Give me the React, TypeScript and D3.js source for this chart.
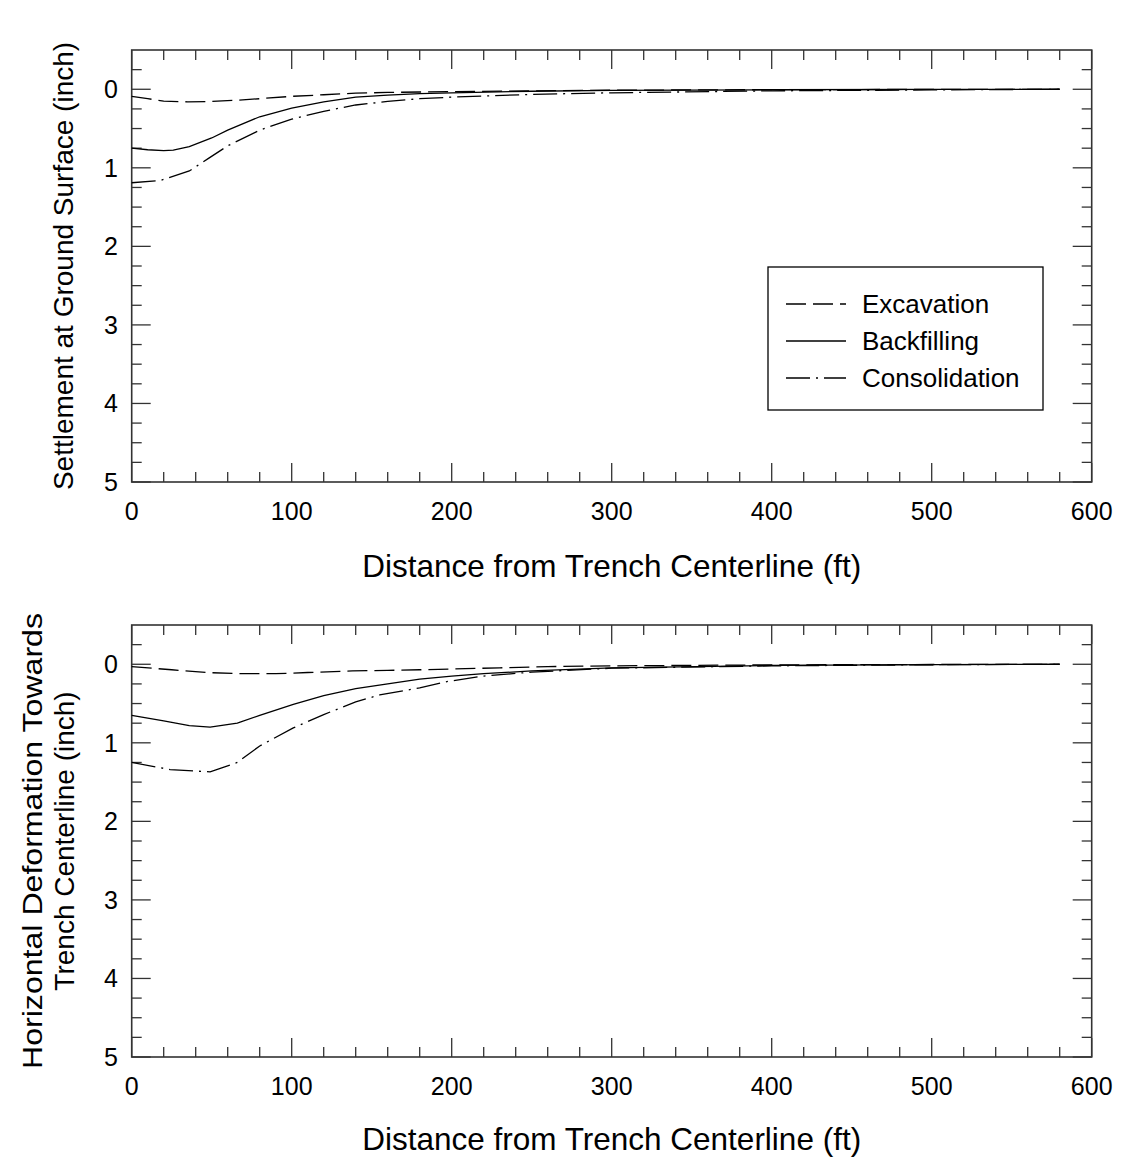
import React from "react";
import * as d3 from "d3";

// ---- data ----
const settleExcavationX = [0, 10, 20, 35, 50, 65, 80, 100, 120, 140, 160, 180, 200, 250, 300, 400, 500, 580];
const settleExcavationY = [0.09, 0.12, 0.15, 0.16, 0.155, 0.14, 0.12, 0.09, 0.07, 0.05, 0.04, 0.035, 0.03, 0.02, 0.012, 0.005, 0.002, 0];
const settleBackfillX = [0, 10, 20, 26, 36, 50, 60, 80, 100, 120, 140, 160, 180, 200, 250, 300, 400, 500, 580];
const settleBackfillY = [0.75, 0.77, 0.78, 0.775, 0.73, 0.62, 0.52, 0.35, 0.24, 0.16, 0.1, 0.075, 0.055, 0.045, 0.025, 0.015, 0.006, 0.002, 0];
const settleConsolX = [0, 18, 36, 48, 60, 80, 100, 120, 140, 160, 180, 200, 250, 300, 400, 500, 580];
const settleConsolY = [1.19, 1.16, 1.04, 0.88, 0.72, 0.52, 0.38, 0.28, 0.2, 0.155, 0.12, 0.1, 0.065, 0.045, 0.02, 0.008, 0];

const horizExcavationX = [0, 25, 49, 68, 90, 110, 138, 160, 180, 200, 230, 260, 300, 400, 500, 580];
const horizExcavationY = [0.03, 0.07, 0.107, 0.12, 0.12, 0.105, 0.085, 0.078, 0.07, 0.06, 0.045, 0.03, 0.02, 0.008, 0.003, 0];
const horizBackfillX = [0, 20, 36, 49, 66, 80, 101, 120, 140, 160, 180, 200, 220, 250, 300, 400, 500, 580];
const horizBackfillY = [0.65, 0.72, 0.78, 0.8, 0.75, 0.65, 0.51, 0.4, 0.31, 0.25, 0.19, 0.15, 0.12, 0.085, 0.045, 0.015, 0.005, 0];
const horizConsolX = [0, 24, 49, 66, 80, 101, 120, 140, 155, 180, 197, 220, 250, 300, 400, 500, 580];
const horizConsolY = [1.25, 1.34, 1.37, 1.25, 1.04, 0.81, 0.64, 0.48, 0.39, 0.3, 0.22, 0.15, 0.1, 0.05, 0.02, 0.006, 0];

const seriesNames = ["Excavation", "Backfilling", "Consolidation"];
const xTickLabels = [0, 100, 200, 300, 400, 500, 600];
const yTickLabels = [0, 1, 2, 3, 4, 5];

const dashes = ["20,7", "", "24,6,2,6"];
const FONT = "'Liberation Sans', Arial, Helvetica, sans-serif";

type Panel = {
  top: number;
  bottom: number;
  series: { x: number[]; y: number[] }[];
  yLabel: string[];
  yLabelLen: (number | undefined)[];
  legend: boolean;
  xTitleY: number;
};

const panels: Panel[] = [
  {
    top: 50,
    bottom: 482,
    series: [
      { x: settleExcavationX, y: settleExcavationY },
      { x: settleBackfillX, y: settleBackfillY },
      { x: settleConsolX, y: settleConsolY },
    ],
    yLabel: ["Settlement at Ground Surface (inch)"],
    yLabelLen: [undefined],
    legend: true,
    xTitleY: 577,
  },
  {
    top: 625,
    bottom: 1057,
    series: [
      { x: horizExcavationX, y: horizExcavationY },
      { x: horizBackfillX, y: horizBackfillY },
      { x: horizConsolX, y: horizConsolY },
    ],
    yLabel: ["Horizontal Deformation Towards", "Trench Centerline (inch)"],
    yLabelLen: [456, undefined],
    legend: false,
    xTitleY: 1150,
  },
];

const LEFT = 131.7;
const RIGHT = 1091.7;

function PanelView({ p }: { p: Panel }) {
  const x = d3.scaleLinear().domain([0, 600]).range([LEFT, RIGHT]);
  const y = d3.scaleLinear().domain([-0.5, 5]).range([p.top, p.bottom]);
  const line = d3
    .line<[number, number]>()
    .x((d) => x(d[0]))
    .y((d) => y(d[1]));
  const xMinor = d3.range(0, 601, 20);
  const yMinor = d3.range(-0.25, 5.001, 0.25);
  const frame = "#333";
  const midY = (p.top + p.bottom) / 2;
  const major = 19;
  const minor = 10;
  return (
    <g>
      {xMinor.map((v) => {
        const len = v % 100 === 0 ? major : minor;
        return (
          <g key={"x" + v}>
            <line x1={x(v)} x2={x(v)} y1={p.bottom} y2={p.bottom - len} stroke={frame} strokeWidth={1.3} />
            <line x1={x(v)} x2={x(v)} y1={p.top} y2={p.top + len} stroke={frame} strokeWidth={1.3} />
          </g>
        );
      })}
      {yMinor.map((v) => {
        const isMajor = Math.abs(v - Math.round(v)) < 1e-6;
        const len = isMajor ? major : minor;
        return (
          <g key={"y" + v}>
            <line x1={LEFT} x2={LEFT + len} y1={y(v)} y2={y(v)} stroke={frame} strokeWidth={1.3} />
            <line x1={RIGHT} x2={RIGHT - len} y1={y(v)} y2={y(v)} stroke={frame} strokeWidth={1.3} />
          </g>
        );
      })}
      <rect x={LEFT} y={p.top} width={RIGHT - LEFT} height={p.bottom - p.top} fill="none" stroke={frame} strokeWidth={1.6} />
      {xTickLabels.map((v) => (
        <text key={"xl" + v} x={x(v)} y={p.bottom + 38} textAnchor="middle" fontSize={25} fontFamily={FONT} fill="#000">
          {v}
        </text>
      ))}
      {yTickLabels.map((v) => (
        <text key={"yl" + v} x={118} y={y(v) + 9} textAnchor="end" fontSize={25} fontFamily={FONT} fill="#000">
          {v}
        </text>
      ))}
      <text x={(LEFT + RIGHT) / 2} y={p.xTitleY} textAnchor="middle" fontSize={31.5} fontFamily={FONT} fill="#000">
        Distance from Trench Centerline (ft)
      </text>
      {p.yLabel.map((t, i) => {
        const cx = p.yLabel.length === 1 ? 73 : 42 + i * 32;
        const len = p.yLabelLen[i];
        return (
          <text
            key={"yt" + i}
            transform={`translate(${cx},${midY}) rotate(-90)`}
            textAnchor="middle"
            fontSize={28}
            fontFamily={FONT}
            fill="#000"
            {...(len ? { textLength: len, lengthAdjust: "spacingAndGlyphs" } : {})}
          >
            {t}
          </text>
        );
      })}
      {p.series.map((s, i) => (
        <path
          key={"s" + i}
          d={line(s.x.map((xv, j) => [xv, s.y[j]] as [number, number])) || ""}
          fill="none"
          stroke="#000"
          strokeWidth={1.3}
          strokeDasharray={dashes[i] || undefined}
        />
      ))}
      {p.legend && (
        <g>
          <rect x={768} y={267} width={275} height={143} fill="#fff" stroke="#000" strokeWidth={1.3} />
          {seriesNames.map((n, i) => {
            const ly = 304 + i * 37;
            return (
              <g key={"lg" + i}>
                <line x1={786} x2={846} y1={ly} y2={ly} stroke="#000" strokeWidth={1.3} strokeDasharray={dashes[i] || undefined} />
                <text x={862} y={ly + 9} fontSize={26} fontFamily={FONT} fill="#000">
                  {n}
                </text>
              </g>
            );
          })}
        </g>
      )}
    </g>
  );
}

export default function App() {
  return (
    <svg width={1127} height={1163} style={{ position: "absolute", left: 0, top: 0, background: "#fff" }}>
      <rect width={1127} height={1163} fill="#fff" />
      {panels.map((p, i) => (
        <PanelView key={i} p={p} />
      ))}
    </svg>
  );
}
